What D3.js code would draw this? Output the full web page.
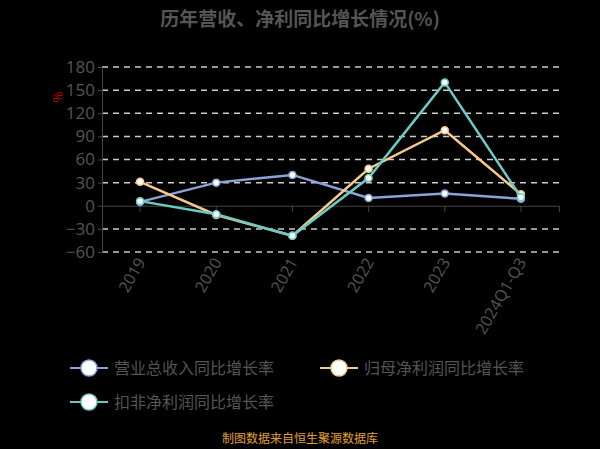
<!DOCTYPE html><html><head><meta charset="utf-8"><script src="https://cdn.jsdelivr.net/npm/d3@7"></script>
<style>body{margin:0;background:#000}svg{font-family:"Noto Sans CJK SC","Noto Sans",sans-serif}</style></head><body><svg width="600" height="449"></svg>
<script>
const categories=["2019","2020","2021","2022","2023","2024Q1-Q3"];
const revenue=[5,30,40,10,16,9];
const netProfit=[31,-12,-39,48,98,15];
const deductedProfit=[6,-11,-39,36,160,11];
const yTicks=[-60,-30,0,30,60,90,120,150,180];
const seriesNames=["营业总收入同比增长率","归母净利润同比增长率","扣非净利润同比增长率"];
const colors=["#8aa4d8","#f5c98a","#6ccac4"];
const svg=d3.select("svg");
svg.append("rect").attr("width",600).attr("height",449).attr("fill","#000");
svg.append("text").attr("x",300).attr("y",26).attr("text-anchor","middle").attr("fill","#555").attr("font-size",19).attr("font-weight","bold").text("历年营收、净利同比增长情况(%)");
const x=d3.scaleBand().domain(categories).range([102,559]);
const y=d3.scaleLinear().domain([-60,180]).range([252,67]);
yTicks.forEach(t=>{if(t!==0)svg.append("line").attr("x1",102).attr("x2",560).attr("y1",y(t)).attr("y2",y(t)).attr("stroke","#ccc").attr("stroke-width",1.5).attr("stroke-dasharray","6,5");});
const ya=svg.append("g").attr("transform","translate(102,0)").call(d3.axisLeft(y).tickValues(yTicks).tickSize(4));
ya.selectAll("text").attr("fill","#555").attr("font-size",17).attr("font-family","Open Sans,sans-serif");
ya.selectAll("line,path").attr("stroke","#444");
const xa=svg.append("g").attr("transform",`translate(0,${y(0)})`).call(d3.axisBottom(x).tickSize(6).tickFormat(""));
xa.selectAll("line,path").attr("stroke","#444");
svg.selectAll(".xl").data(categories).enter().append("text").attr("font-size",16).attr("fill","#555").attr("font-family","Open Sans,sans-serif")
 .attr("text-anchor","end").attr("transform",d=>`translate(${x(d)+x.bandwidth()/2+6},262) rotate(-60)`).text(d=>d);
svg.append("text").attr("transform","translate(62,97) rotate(-90)").attr("fill","#c00").attr("font-size",12).attr("text-anchor","middle").text("%");
const data=[revenue,netProfit,deductedProfit];
const line=d3.line().x((d,i)=>x(categories[i])+x.bandwidth()/2).y(d=>y(d));
data.forEach((s,k)=>{
 svg.append("path").datum(s).attr("d",line).attr("fill","none").attr("stroke",colors[k]).attr("stroke-width",2.5);
 svg.selectAll(".p"+k).data(s).enter().append("circle").attr("cx",(d,i)=>x(categories[i])+x.bandwidth()/2).attr("cy",d=>y(d)).attr("r",3.5).attr("fill","#fff").attr("stroke",colors[k]).attr("stroke-width",1.5);
});
const leg=[[70,368],[320,368],[70,402]];
seriesNames.forEach((n,k)=>{
 const [lx,ly]=leg[k];
 svg.append("line").attr("x1",lx).attr("x2",lx+38).attr("y1",ly).attr("y2",ly).attr("stroke",colors[k]).attr("stroke-width",2);
 svg.append("circle").attr("cx",lx+19).attr("cy",ly).attr("r",8).attr("fill","#fff").attr("stroke",colors[k]).attr("stroke-width",1.5);
 svg.append("text").attr("x",lx+44).attr("y",ly+6).attr("fill","#555").attr("font-size",16).text(n);
});
svg.append("text").attr("x",300).attr("y",443).attr("text-anchor","middle").attr("fill","#e0a030").attr("font-size",12).text("制图数据来自恒生聚源数据库");
</script></body></html>
